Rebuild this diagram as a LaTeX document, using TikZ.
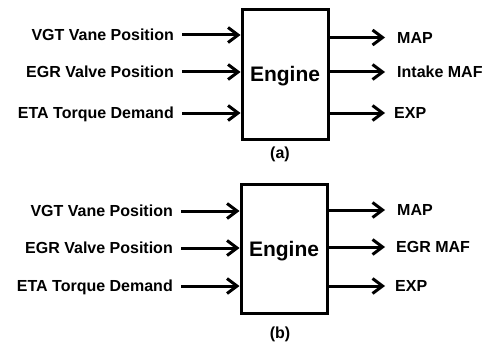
\documentclass[tikz,border=0pt]{standalone}
\usepackage{fontspec}
\setmainfont{Liberation Sans}
\usetikzlibrary{arrows.meta}

\begin{document}
\begin{tikzpicture}[x=1pt,y=-1pt,
  sig/.style={line width=3pt,-{Straight Barb[length=10pt,width=15pt]}},
  inlab/.style={anchor=east,inner xsep=8pt,inner ysep=0pt,font=\fontsize{16}{19}\selectfont\bfseries,text height=11.5pt,text depth=0pt},
  outlab/.style={anchor=west,inner xsep=0pt,inner ysep=0pt,font=\fontsize{16}{19}\selectfont\bfseries,text height=11.5pt,text depth=0pt},
  engbox/.style={draw,line width=3pt,minimum width=86pt,minimum height=129pt,font=\fontsize{21}{25}\selectfont\bfseries,text height=15pt,text depth=0pt},
  caption/.style={font=\fontsize{16}{19}\selectfont\bfseries,text height=11.5pt,text depth=0pt}]
\fill[white] (0,0) rectangle (489,342);
\useasboundingbox (0,0) rectangle (489,342);
% (a) intake MAF
\node[engbox] (engA) at (285,74.5) {Engine};
\node[inlab] (vgtA) at (182,35) {VGT Vane Position};
\node[inlab] (egrA) at (182,72) {EGR Valve Position};
\node[inlab] (etaA) at (182,113) {ETA Torque Demand};
\node[outlab] (mapA) at (397,37.5) {MAP};
\node[outlab] (mafA) at (397,72) {Intake MAF};
\node[outlab] (expA) at (394,113) {EXP};
\node[caption] (capA) at (280,153) {(a)};
\draw[sig] (vgtA.east) -- (engA.west |- vgtA.east);
\draw[sig] (egrA.east) -- (engA.west |- egrA.east);
\draw[sig] (etaA.east) -- (engA.west |- etaA.east);
\draw[sig] (engA.east |- mapA.west) -- ([xshift=-12pt]mapA.west);
\draw[sig] (engA.east |- mafA.west) -- ([xshift=-12pt]mafA.west);
\draw[sig] (engA.east |- expA.west) -- ([xshift=-9pt]expA.west);
% (b) EGR MAF
\node[engbox] (engB) at (284,248.5) {Engine};
\node[inlab] (vgtB) at (181,211) {VGT Vane Position};
\node[inlab] (egrB) at (181,248) {EGR Valve Position};
\node[inlab] (etaB) at (181,286) {ETA Torque Demand};
\node[outlab] (mapB) at (397,210) {MAP};
\node[outlab] (mafB) at (396,247) {EGR MAF};
\node[outlab] (expB) at (395,286) {EXP};
\node[caption] (capB) at (280,333) {(b)};
\draw[sig] (vgtB.east) -- (engB.west |- vgtB.east);
\draw[sig] (egrB.east) -- (engB.west |- egrB.east);
\draw[sig] (etaB.east) -- (engB.west |- etaB.east);
\draw[sig] (engB.east |- mapB.west) -- ([xshift=-12pt]mapB.west);
\draw[sig] (engB.east |- mafB.west) -- ([xshift=-11pt]mafB.west);
\draw[sig] (engB.east |- expB.west) -- ([xshift=-10pt]expB.west);
\end{tikzpicture}
\end{document}
